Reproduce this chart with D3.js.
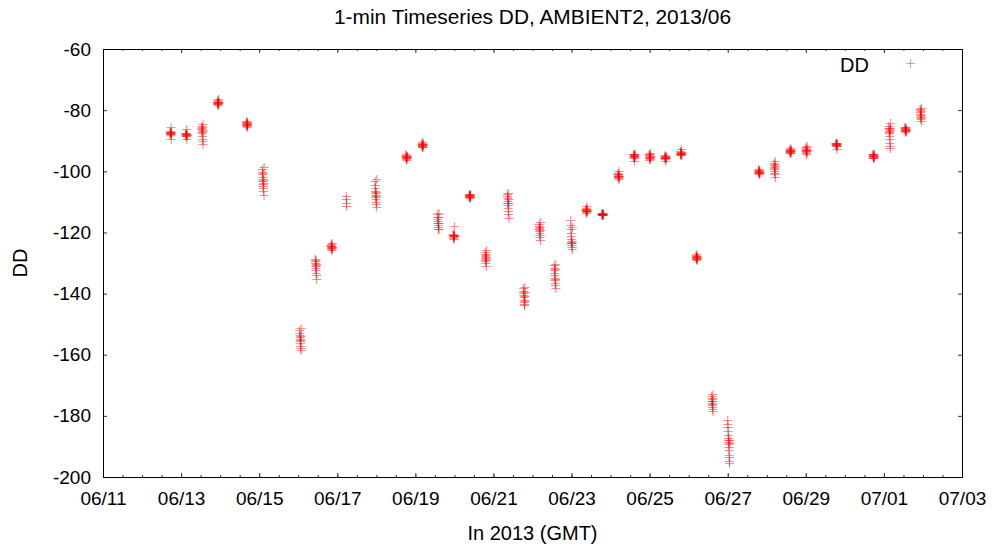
<!DOCTYPE html>
<html>
<head>
<meta charset="utf-8">
<title>1-min Timeseries DD</title>
<script src="https://d3js.org/d3.v7.min.js"></script>
<style>
body { margin: 0; background: #fff; }
text { font-family: "Liberation Sans", Arial, sans-serif; fill: #000; }
</style>
</head>
<body>
<div id="chart"></div>
<script>

// start time (GMT) of each block of 1-min samples
var blockStart = [
  "2013-06-12T17:15Z", "2013-06-13T02:50Z", "2013-06-13T12:40Z", "2013-06-13T22:20Z",
  "2013-06-14T16:05Z", "2013-06-15T01:55Z", "2013-06-16T00:55Z", "2013-06-16T10:30Z",
  "2013-06-16T20:10Z", "2013-06-17T05:30Z", "2013-06-17T23:15Z", "2013-06-18T18:10Z",
  "2013-06-19T04:00Z", "2013-06-19T13:40Z", "2013-06-19T23:15Z", "2013-06-20T09:05Z",
  "2013-06-20T18:55Z", "2013-06-21T08:35Z", "2013-06-21T18:30Z", "2013-06-22T04:05Z",
  "2013-06-22T13:25Z", "2013-06-22T23:30Z", "2013-06-23T08:50Z", "2013-06-23T18:40Z",
  "2013-06-24T04:30Z", "2013-06-24T14:10Z", "2013-06-24T23:45Z", "2013-06-25T09:20Z",
  "2013-06-25T18:55Z", "2013-06-26T04:30Z", "2013-06-26T14:10Z", "2013-06-27T00:00Z",
  "2013-06-27T18:55Z", "2013-06-28T04:30Z", "2013-06-28T14:10Z", "2013-06-29T00:00Z",
  "2013-06-29T18:30Z", "2013-06-30T17:15Z", "2013-07-01T03:05Z", "2013-07-01T12:55Z",
  "2013-07-01T22:20Z"
];

// DD values of each block
var blockValues = [
  [-87.2,-87.6,-87.9,-86.8,-87.4,-88.1,-87.0,-87.5,-85.6,-89.5,-87.8,-87.3],
  [-87.6,-88.0,-88.3,-87.4,-87.9,-88.6,-87.7,-86.2,-89.4,-88.1,-87.8,-88.2],
  [-85.2,-85.8,-86.4,-87.0,-87.6,-86.1,-85.5,-88.4,-89.3,-90.2,-91.0,-84.6,-86.9],
  [-77.2,-77.6,-78.0,-76.8,-77.4,-77.9,-77.1,-78.4,-76.5,-77.7,-77.3,-77.5],
  [-84.0,-84.4,-84.9,-83.6,-84.7,-85.2,-84.2,-83.9,-85.6,-84.5,-84.1,-84.8],
  [-99.2,-100.1,-101.0,-101.8,-102.5,-103.2,-104.0,-104.7,-105.5,-106.3,-100.5,-102.9,-103.8,-107.6,-98.6],
  [-152.0,-152.8,-153.5,-154.2,-154.9,-155.6,-156.3,-157.0,-157.8,-155.1,-153.9,-151.2,-158.6],
  [-128.6,-129.3,-130.0,-130.8,-131.5,-132.3,-133.2,-129.0,-131.0,-134.0,-135.2,-130.4],
  [-124.2,-124.6,-125.0,-124.4,-125.3,-123.8,-124.9,-125.6,-124.5,-123.3,-124.7,-125.1],
  [-108.1,-109.2,-110.3,-111.4],
  [-103.2,-104.5,-105.6,-106.4,-107.1,-107.8,-108.5,-109.2,-110.0,-110.8,-106.9,-108.1,-102.5,-111.6],
  [-94.8,-95.2,-95.6,-94.5,-95.9,-95.1,-96.3,-94.9,-95.4,-95.7,-95.0,-95.3],
  [-91.0,-91.4,-91.8,-90.7,-91.6,-92.1,-91.2,-90.3,-91.5,-91.9,-91.3,-91.1],
  [-114.0,-114.8,-115.5,-116.2,-117.0,-117.6,-118.3,-119.0,-115.1,-116.8,-118.8,-113.6],
  [-120.6,-121.0,-121.4,-120.8,-121.7,-121.2,-120.9,-122.0,-121.3,-117.9,-121.1,-120.7],
  [-107.6,-108.0,-108.4,-107.4,-108.2,-108.7,-107.8,-108.1,-107.3,-108.5,-107.9,-108.3],
  [-126.5,-127.2,-127.8,-128.3,-128.9,-129.4,-130.0,-127.5,-128.6,-131.0,-125.8,-128.1],
  [-107.5,-108.2,-108.9,-109.6,-110.3,-111.0,-112.0,-113.0,-114.0,-107.0,-109.2,-110.5,-115.2],
  [-138.3,-139.0,-139.8,-140.5,-141.2,-142.0,-142.7,-143.4,-143.8,-140.9,-137.8,-142.4,-139.5],
  [-117.2,-117.8,-118.4,-119.0,-119.6,-120.2,-120.8,-121.5,-118.1,-119.3,-122.4,-116.6],
  [-130.8,-131.6,-132.4,-133.2,-134.0,-134.8,-135.6,-136.4,-137.2,-132.0,-135.2,-130.2,-138.2],
  [-116.0,-117.5,-119.0,-120.2,-121.3,-122.3,-123.0,-123.6,-124.2,-124.8,-123.4,-122.8,-125.5,-118.2],
  [-112.2,-112.7,-113.1,-111.9,-113.4,-112.5,-113.8,-112.8,-111.5,-113.0,-112.4,-112.9],
  [-113.7,-114.0,-114.3,-113.9,-114.2,-114.1,-113.8,-114.4,-114.0,-113.6,-114.2,-114.0],
  [-100.6,-101.0,-101.5,-102.0,-101.2,-101.8,-102.4,-100.8,-101.4,-99.8,-102.1,-101.6],
  [-94.5,-94.9,-95.3,-94.2,-95.0,-95.5,-94.7,-96.6,-94.8,-95.2,-94.4,-95.1],
  [-94.2,-94.8,-95.3,-95.8,-96.3,-94.5,-95.0,-95.6,-96.1,-93.9,-95.2,-94.9],
  [-95.0,-95.4,-95.8,-94.8,-95.6,-96.1,-95.2,-95.5,-96.5,-95.3,-95.7,-95.1],
  [-93.5,-93.9,-94.3,-94.8,-93.7,-94.1,-94.5,-92.8,-94.0,-94.6,-93.8,-94.2],
  [-127.4,-127.9,-128.4,-128.8,-127.6,-128.2,-129.0,-127.1,-128.0,-128.6,-127.8,-128.3],
  [-173.4,-174.2,-175.0,-175.7,-176.4,-177.1,-177.8,-174.6,-176.0,-173.0,-175.3,-178.4],
  [-181.4,-182.8,-183.8,-184.9,-186.3,-187.4,-188.0,-188.5,-189.3,-190.1,-191.2,-192.8,-193.6,-194.7,-195.5,-187.9,-189.0],
  [-99.6,-100.0,-100.4,-99.4,-100.2,-100.7,-99.9,-100.9,-100.1,-99.7,-100.3,-100.5],
  [-97.4,-98.0,-98.6,-99.2,-99.8,-100.4,-97.7,-98.9,-100.8,-96.5,-101.8,-98.3],
  [-93.0,-93.4,-93.8,-92.7,-93.6,-94.0,-93.2,-92.4,-93.5,-93.9,-93.3,-93.1],
  [-92.4,-92.9,-93.4,-93.9,-92.2,-93.1,-93.6,-94.3,-92.7,-93.0,-91.8,-93.5],
  [-90.9,-91.2,-91.5,-90.6,-91.4,-91.8,-91.0,-92.6,-91.3,-90.8,-91.6,-91.1],
  [-94.3,-94.7,-95.1,-95.5,-94.5,-94.9,-95.3,-95.8,-94.6,-95.0,-94.2,-95.2],
  [-85.2,-85.7,-86.2,-86.7,-87.2,-87.6,-88.4,-89.6,-90.6,-91.6,-92.5,-85.9,-86.5,-84.3],
  [-85.6,-86.0,-86.4,-86.8,-85.8,-86.2,-86.6,-87.2,-85.4,-86.9,-86.1,-86.5],
  [-79.5,-80.1,-80.7,-81.3,-81.9,-82.5,-83.0,-80.4,-81.6,-82.2,-79.2,-83.6]
];

var stepMinutes = 5;   // spacing of the samples kept per block
var xRange = ["2013-06-11T00:00Z", "2013-07-03T00:00Z"];
var yTicks = [-200, -180, -160, -140, -120, -100, -80, -60];

var margin = {top: 49, right: 36, bottom: 75, left: 103};
var width = 998 - margin.left - margin.right;
var height = 552 - margin.top - margin.bottom;

var points = [];
blockStart.forEach(function(s, i) {
    var t0 = new Date(s);
    blockValues[i].forEach(function(v, j) {
        points.push({t: d3.utcMinute.offset(t0, j * stepMinutes), dd: v});
    });
});

var x = d3.scaleUtc().domain(xRange.map(function(d){ return new Date(d); })).range([0, width]);
var y = d3.scaleLinear().domain([-200, -60]).range([height, 0]);

var svg = d3.select("#chart").append("svg")
    .attr("width", 998).attr("height", 552)
    .append("g")
    .attr("transform", "translate(" + margin.left + "," + margin.top + ")");

var fmt = d3.utcFormat("%m/%d");
var major = d3.utcDay.every(2).range(x.domain()[0], d3.utcHour.offset(x.domain()[1], 1));
var minor = d3.utcHour.every(12).range(x.domain()[0], d3.utcHour.offset(x.domain()[1], 1));

function tidy(g) {
    g.select(".domain").remove();
    g.selectAll(".tick line").attr("stroke", "#333");
}

// minor ticks, bottom and top
svg.append("g").attr("transform", "translate(0," + height + ")")
    .call(d3.axisBottom(x).tickValues(minor).tickSizeInner(-2).tickSizeOuter(0).tickFormat(""))
    .call(tidy);
svg.append("g")
    .call(d3.axisTop(x).tickValues(minor).tickSizeInner(-2).tickSizeOuter(0).tickFormat(""))
    .call(tidy);

// major ticks with labels
svg.append("g").attr("transform", "translate(0," + height + ")")
    .call(d3.axisBottom(x).tickValues(major).tickSizeInner(-4).tickSizeOuter(0).tickPadding(15).tickFormat(fmt))
    .call(tidy)
    .selectAll("text").attr("font-size", "19px").attr("font-family", null);
svg.append("g")
    .call(d3.axisTop(x).tickValues(major).tickSizeInner(-4).tickSizeOuter(0).tickFormat(""))
    .call(tidy);

svg.append("g")
    .call(d3.axisLeft(y).tickValues(yTicks).tickSizeInner(-4).tickSizeOuter(0).tickPadding(12)
        .tickFormat(function(d){ return String(d); }))
    .call(tidy)
    .selectAll("text").attr("font-size", "19px").attr("font-family", null);
svg.append("g").attr("transform", "translate(" + width + ",0)")
    .call(d3.axisRight(y).tickValues(yTicks).tickSizeInner(-4).tickSizeOuter(0).tickFormat(""))
    .call(tidy);

// border
svg.append("rect")
    .attr("x", 0.5).attr("y", 0.5)
    .attr("width", width).attr("height", height)
    .attr("fill", "none").attr("stroke", "#000").attr("stroke-width", 1);

function plus(cx, cy) {
    cy = Math.round(cy) + 0.5;
    return "M" + (cx - 4.5) + "," + cy + "H" + (cx + 4.5) + "M" + cx + "," + (cy - 4.5) + "V" + (cy + 4.5);
}

svg.append("g").selectAll("path").data(points).enter().append("path")
    .attr("d", function(d){ return plus(x(d.t), y(d.dd)); })
    .attr("fill", "none")
    .attr("stroke", "#ff0000")
    .attr("stroke-opacity", 0.45)
    .attr("stroke-width", 1.1);

// legend
svg.append("text")
    .attr("x", 766).attr("y", 23)
    .attr("text-anchor", "end")
    .attr("font-size", "20px")
    .text("DD");
svg.append("path")
    .attr("d", plus(807.5, 14))
    .attr("fill", "none").attr("stroke", "#ff0000").attr("stroke-opacity", 0.4);

// titles
svg.append("text")
    .attr("x", width / 2).attr("y", -25)
    .attr("text-anchor", "middle")
    .attr("font-size", "20px")
    .attr("textLength", 397)
    .attr("lengthAdjust", "spacingAndGlyphs")
    .text("1-min Timeseries DD, AMBIENT2, 2013/06");

svg.append("text")
    .attr("x", width / 2).attr("y", height + 63)
    .attr("text-anchor", "middle")
    .attr("font-size", "20px")
    .text("In 2013 (GMT)");

svg.append("text")
    .attr("transform", "rotate(-90)")
    .attr("x", -height / 2).attr("y", -76)
    .attr("text-anchor", "middle")
    .attr("font-size", "20px")
    .text("DD");

</script>
</body>
</html>
